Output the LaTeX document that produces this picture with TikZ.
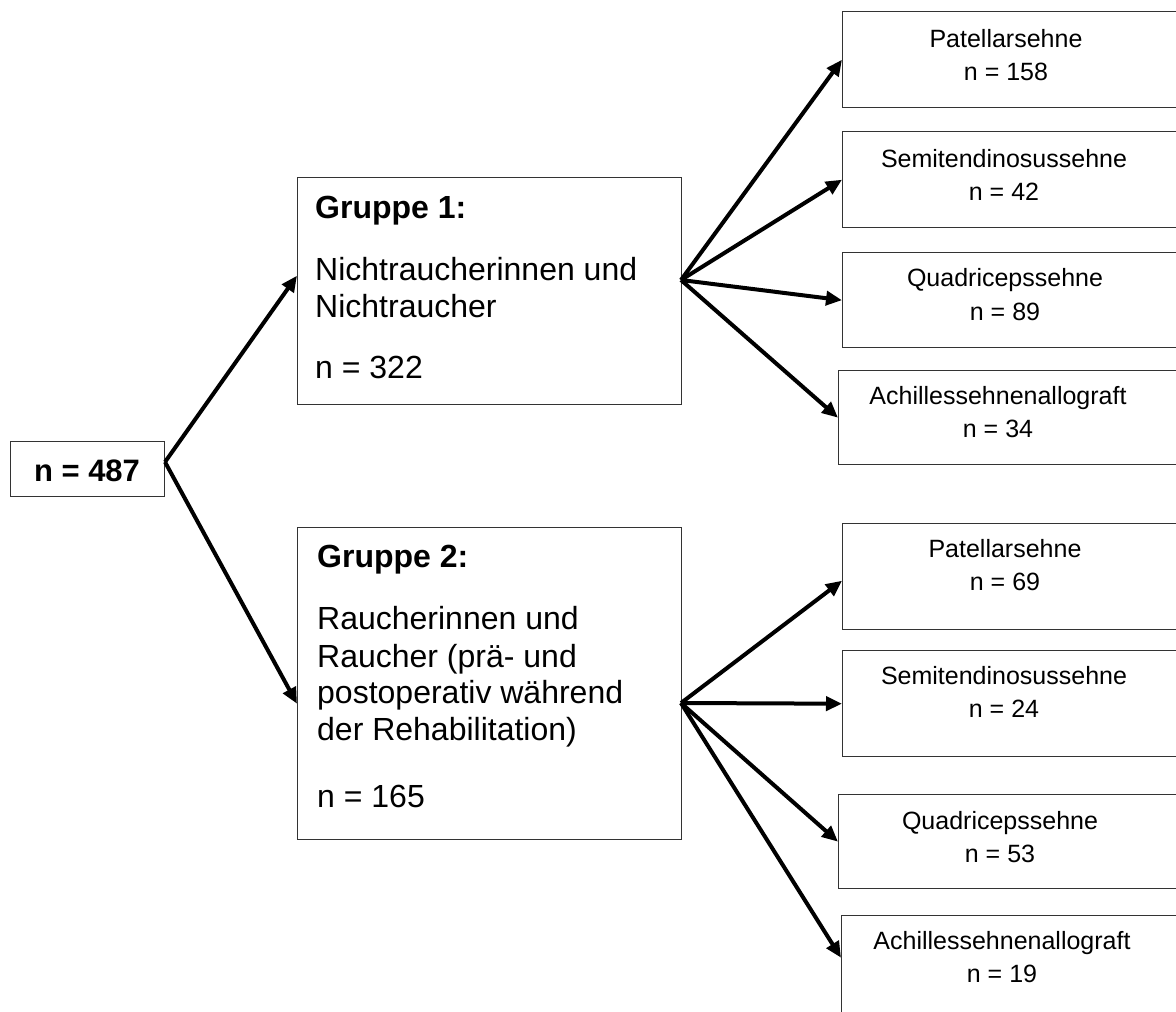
\documentclass[tikz,border=0pt]{standalone}
\usepackage{fontspec}
\setmainfont{Liberation Sans}
\usetikzlibrary{arrows.meta,calc}
\begin{document}
\begin{tikzpicture}[x=1pt,y=-1pt,
  box/.style={draw=black!80, line width=1.4pt, anchor=north west, inner sep=0pt},
  arr/.style={line width=4pt, -{Triangle[length=16pt,width=14pt]}},
  big/.style={font=\fontsize{32}{37}\selectfont, anchor=base west, inner sep=0pt},
  bigb/.style={font=\bfseries\fontsize{32}{37}\selectfont, anchor=base west, inner sep=0pt},
  small/.style={font=\fontsize{25}{30}\selectfont, anchor=base, inner sep=0pt}]
\useasboundingbox (0,0) rectangle (1176,1012);
\clip (0,0) rectangle (1176,1012);

% root
\node[box, minimum width=154pt, minimum height=55pt] (n0) at (10,441) {};
\node[font=\bfseries\fontsize{31}{36}\selectfont, anchor=base, inner sep=0pt] (n0t) at (87,481) {n = 487};

% groups
\node[box, minimum width=384pt, minimum height=227pt] (g1) at (297,177) {};
\node[bigb] (g1a) at (315,218) {Gruppe 1:};
\node[big] (g1b) at (315,280) {Nichtraucherinnen und};
\node[big] (g1c) at (315,317) {Nichtraucher};
\node[big] (g1d) at (315,378) {n = 322};

\node[box, minimum width=384pt, minimum height=312pt] (g2) at (297,527) {};
\node[bigb] (g2a) at (317,567) {Gruppe 2:};
\node[big] (g2b) at (317,629) {Raucherinnen und};
\node[big] (g2c) at (317,667) {Raucher (prä- und};
\node[big] (g2d) at (317,703) {postoperativ während};
\node[big] (g2e) at (317,740) {der Rehabilitation)};
\node[big] (g2f) at (317,807) {n = 165};

% right boxes, top group
\node[box, minimum width=340pt, minimum height=96pt] (P1) at (842,11) {};
\node[small] (P1a) at (1006,47) {Patellarsehne};
\node[small] (P1b) at (1006,80) {n = 158};
\node[box, minimum width=340pt, minimum height=96pt] (S1) at (842,131) {};
\node[small] (S1a) at (1004,167) {Semitendinosussehne};
\node[small] (S1b) at (1004,200) {n = 42};
\node[box, minimum width=340pt, minimum height=95pt] (Q1) at (842,252) {};
\node[small] (Q1a) at (1005,286) {Quadricepssehne};
\node[small] (Q1b) at (1005,320) {n = 89};
\node[box, minimum width=344pt, minimum height=94pt] (A1) at (838,370) {};
\node[small] (A1a) at (998,404) {Achillessehnenallograft};
\node[small] (A1b) at (998,437) {n = 34};

% right boxes, bottom group
\node[box, minimum width=340pt, minimum height=106pt] (P2) at (842,523) {};
\node[small] (P2a) at (1005,557) {Patellarsehne};
\node[small] (P2b) at (1005,590) {n = 69};
\node[box, minimum width=340pt, minimum height=106pt] (S2) at (842,650) {};
\node[small] (S2a) at (1004,684) {Semitendinosussehne};
\node[small] (S2b) at (1004,717) {n = 24};
\node[box, minimum width=344pt, minimum height=94pt] (Q2) at (838,794) {};
\node[small] (Q2a) at (1000,829) {Quadricepssehne};
\node[small] (Q2b) at (1000,862) {n = 53};
\node[box, minimum width=341pt, minimum height=110pt] (A2) at (841,915) {};
\node[small] (A2a) at (1002,949) {Achillessehnenallograft};
\node[small] (A2b) at (1002,982) {n = 19};

% fan origins
\coordinate (n0f) at (165,462);
\coordinate (f1) at (681,280);
\coordinate (f2) at (681,703);

% arrows
\draw[arr] (n0f) -- ([yshift=15.5pt]g1.west);
\draw[arr] (n0f) -- ([yshift=-20pt]g2.west);

\draw[arr] (f1) -- (P1.west);
\draw[arr] (f1) -- (S1.west);
\draw[arr] (f1) -- (Q1.west);
\draw[arr] (f1) -- (A1.west);

\draw[arr] (f2) -- ([yshift=-4pt]P2.west);
\draw[arr] (f2) -- (S2.west);
\draw[arr] (f2) -- (Q2.west);
\draw[arr] (f2) -- ([yshift=13pt]A2.west);
\end{tikzpicture}
\end{document}
